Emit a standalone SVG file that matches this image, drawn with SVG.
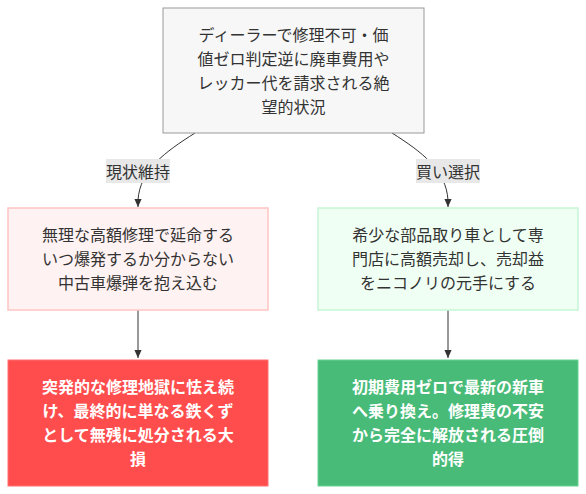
<svg xmlns="http://www.w3.org/2000/svg" width="586" height="494" viewBox="0 0 586 494">
<defs>
<marker id="arr" viewBox="0 0 10 10" refX="10" refY="5" markerWidth="8" markerHeight="8" markerUnits="userSpaceOnUse" orient="auto">
<path d="M0,0.5 L10,5 L0,9.5 z" fill="#333"/>
</marker>
<style>
text{font-family:"Noto Sans CJK JP","Noto Sans",sans-serif;font-size:16px;text-anchor:middle;dominant-baseline:central;fill:#333}
.w{fill:#fff;font-weight:bold}
.e{fill:none;stroke:#333;stroke-width:1}
.lb{fill:#e8e8e8}
</style>
</defs>
<rect width="586" height="494" fill="#fff"/>
<g id="edges">
<path class="e" d="M195,133 C165,152 140,170 138,200 L138,207" marker-end="url(#arr)"/>
<path class="e" d="M392,133 C422,152 446,170 448,200 L448,207" marker-end="url(#arr)"/>
<path class="e" d="M138,310 L138,358" marker-end="url(#arr)"/>
<path class="e" d="M448,310 L448,358" marker-end="url(#arr)"/>
<rect class="lb" x="106" y="159" width="64" height="24"/>
<text x="138" y="171">現状維持</text>
<rect class="lb" x="416" y="159" width="64" height="24"/>
<text x="448" y="171">買い選択</text>
</g>
<g id="top">
<rect x="163" y="8" width="261" height="125" fill="#f7f7f7" stroke="#999"/>
<text x="293.5" y="34">ディーラーで修理不可・価</text>
<text x="293.5" y="58">値ゼロ判定逆に廃車費用や</text>
<text x="293.5" y="82">レッカー代を請求される絶</text>
<text x="293.5" y="106">望的状況</text>
</g>
<g id="keep">
<rect x="8" y="208" width="260" height="102" fill="#fff2f2" stroke="#ffc4c4" stroke-width="1.5"/>
<text x="138" y="234">無理な高額修理で延命する</text>
<text x="138" y="258">いつ爆発するか分からない</text>
<text x="138" y="282">中古車爆弾を抱え込む</text>
</g>
<g id="buy">
<rect x="318" y="208" width="260" height="102" fill="#f0fff4" stroke="#c6f6d5" stroke-width="1.5"/>
<text x="448" y="234">希少な部品取り車として専</text>
<text x="448" y="258">門店に高額売却し、売却益</text>
<text x="448" y="282">をニコノリの元手にする</text>
</g>
<g id="bad">
<rect x="8" y="360" width="260" height="126" fill="#ff4d4d" stroke="#ff7070"/>
<text class="w" x="138" y="386">突発的な修理地獄に怯え続</text>
<text class="w" x="138" y="410">け、最終的に単なる鉄くず</text>
<text class="w" x="138" y="434">として無残に処分される大</text>
<text class="w" x="138" y="458">損</text>
</g>
<g id="good">
<rect x="318" y="360" width="260" height="126" fill="#48bb78" stroke="#68d391"/>
<text class="w" x="448" y="386">初期費用ゼロで最新の新車</text>
<text class="w" x="448" y="410">へ乗り換え。修理費の不安</text>
<text class="w" x="448" y="434">から完全に解放される圧倒</text>
<text class="w" x="448" y="458">的得</text>
</g>
</svg>
